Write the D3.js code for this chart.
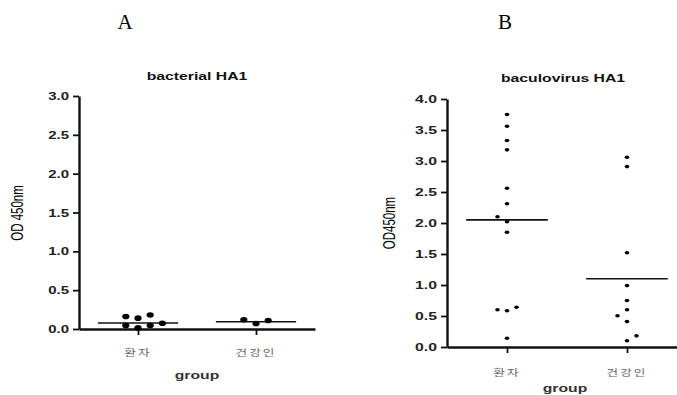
<!DOCTYPE html>
<html><head><meta charset="utf-8">
<script src="https://cdn.jsdelivr.net/npm/d3@7"></script>
<style>body{margin:0;background:#fff;overflow:hidden}</style></head><body>
<script>
// ---- data ----
const groups = ["환자", "건강인"];
const panelLetters = ["A", "B"];
const titles = ["bacterial HA1", "baculovirus HA1"];
const yLabels = ["OD 450nm", "OD450nm"];
const xLabel = "group";

const bactPatient = [0.16, 0.14, 0.18, 0.045, 0.015, 0.045, 0.075];
const bactPatientSlot = [-1, 0, 1, -1, 0, 1, 2];
const bactHealthy = [0.12, 0.07, 0.11];
const bactHealthySlot = [-1, 0, 1];
const bactMeans = [0.077, 0.094];
const bactTicks = [0, 0.5, 1.0, 1.5, 2.0, 2.5, 3.0];

const bacuPatient = [3.75, 3.56, 3.33, 3.18, 2.56, 2.31, 2.10, 2.02, 1.85, 0.60, 0.585, 0.64, 0.14];
const bacuPatientSlot = [0, 0, 0, 0, 0, 0, -1, 0, 0, -1, 0, 1, 0];
const bacuHealthy = [3.06, 2.91, 1.52, 0.99, 0.75, 0.60, 0.505, 0.41, 0.18, 0.10];
const bacuHealthySlot = [0, 0, 0, 0, 0, 0, -1, 0, 1, 0];
const bacuMeans = [2.05, 1.10];
const bacuTicks = [0, 0.5, 1.0, 1.5, 2.0, 2.5, 3.0, 3.5, 4.0];

const W = 677, H = 395;
const SX = 1.5; // horizontal stretch of the original figure
const FONT = "'Liberation Sans', Arial, 'Noto Sans CJK KR', sans-serif";

const svg = d3.select("body").append("svg").attr("width", W).attr("height", H)
  .style("font-family", FONT);

function stext(g, x, y, str, o = {}) {
  const t = g.append("text")
    .attr("transform", `translate(${x},${y}) scale(${o.sx ?? SX},1)` + (o.rot ? ` rotate(${o.rot})` : ""))
    .attr("text-anchor", o.anchor || "middle")
    .attr("font-size", o.size || 10)
    .attr("font-weight", o.weight || "normal")
    .attr("fill", o.fill || "#111")
    .text(str);
  if (o.ls) t.attr("letter-spacing", o.ls);
  if (o.family) t.attr("font-family", o.family);
  return t;
}

const panels = [
  { xr: [79, 315], yr: [329, 96], dom: [0, 3], ticks: bactTicks,
    series: [[bactPatient, bactPatientSlot], [bactHealthy, bactHealthySlot]], means: bactMeans,
    slotPx: 12.2, rx: 3.6, ry: 2.8, tickSize: 10, titleXY: [197, 80], ylabXY: [23, 213],
    catY: 356, groupXY: [197, 379], letterXY: [125, 29] },
  { xr: [447, 687], yr: [347, 99], dom: [0, 4], ticks: bacuTicks,
    series: [[bacuPatient, bacuPatientSlot], [bacuHealthy, bacuHealthySlot]], means: bacuMeans,
    slotPx: 9.5, rx: 2.3, ry: 1.8, tickSize: 10.5, titleXY: [563, 82], ylabXY: [395, 223],
    catY: 376, groupXY: [565, 392], letterXY: [505, 29] }
];

panels.forEach((p, i) => {
  const g = svg.append("g");
  const x = d3.scalePoint().domain(groups).range(p.xr).padding(0.5);
  const y = d3.scaleLinear().domain(p.dom).range(p.yr);
  const step = x.step();

  // y axis
  const ya = g.append("g").attr("transform", `translate(${p.xr[0]},0)`)
    .call(d3.axisLeft(y).tickValues(p.ticks).tickFormat(d3.format(".1f")).tickSize(6).tickSizeOuter(0));
  ya.select(".domain").attr("stroke", "#111").attr("stroke-width", 2.4);
  ya.selectAll(".tick line").attr("stroke", "#111").attr("stroke-width", 1.8);
  ya.selectAll(".tick text").remove();
  ya.selectAll(".tick").each(function (d) {
    stext(d3.select(this), -10, 3.5, d3.format(".1f")(d),
      { anchor: "end", size: p.tickSize, weight: "bold", fill: "#222" });
  });
  ya.attr("font-family", null).attr("font-size", null);

  // x axis
  const xa = g.append("g").attr("transform", `translate(0,${p.yr[0]})`)
    .call(d3.axisBottom(x).tickSize(6).tickSizeOuter(0));
  xa.select(".domain").attr("stroke", "#111").attr("stroke-width", 2.4);
  xa.selectAll(".tick line").attr("stroke", "#111").attr("stroke-width", 1.8);
  xa.selectAll(".tick text").remove();
  xa.attr("font-family", null).attr("font-size", null);

  // category labels
  groups.forEach(c => {
    stext(g, x(c), p.catY, c, { size: 9, fill: "#666", ls: 1.5, family: "'Noto Sans CJK KR', sans-serif", sx: 1.4 });
  });

  // mean lines
  g.selectAll(".mean").data(p.means).join("line")
    .attr("x1", (d, k) => x(groups[k]) - step * 0.34)
    .attr("x2", (d, k) => x(groups[k]) + step * 0.34)
    .attr("y1", d => y(d)).attr("y2", d => y(d))
    .attr("stroke", "#111").attr("stroke-width", 1.6);

  // points
  p.series.forEach(([vals, slots], k) => {
    g.selectAll(".pt" + k).data(vals).join("ellipse")
      .attr("cx", (d, j) => x(groups[k]) + slots[j] * p.slotPx)
      .attr("cy", d => y(d))
      .attr("rx", p.rx).attr("ry", p.ry)
      .attr("fill", "#000");
  });

  // titles / labels
  stext(g, p.titleXY[0], p.titleXY[1], titles[i], { size: 10.5, weight: "bold" });
  stext(g, p.ylabXY[0], p.ylabXY[1], yLabels[i], { size: 11.5, rot: -90, weight: 500, fill: "#000" });
  stext(g, p.groupXY[0], p.groupXY[1], xLabel, { size: 10.5, weight: "bold", fill: "#333" });
  stext(g, p.letterXY[0], p.letterXY[1], panelLetters[i],
    { size: 21, sx: 1, family: "'Liberation Serif', 'Times New Roman', serif", fill: "#000" });
});
</script>
</body></html>
